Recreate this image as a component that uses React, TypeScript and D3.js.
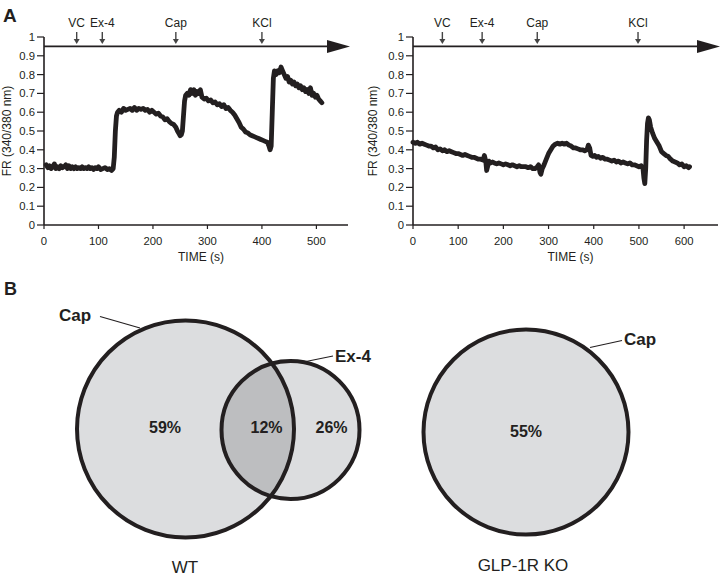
import React from "react";
import * as d3 from "d3";

// ---------- DATA ----------
const yTicks = [0, 0.1, 0.2, 0.3, 0.4, 0.5, 0.6, 0.7, 0.8, 0.9, 1];
const wtXTicks = [0, 100, 200, 300, 400, 500];
const koXTicks = [0, 100, 200, 300, 400, 500, 600];

const wtEvents = ["VC", "Ex-4", "Cap", "KCl"];
const wtEventTimes = [60, 107, 242, 400];
const koEvents = ["VC", "Ex-4", "Cap", "KCl"];
const koEventTimes = [65, 153, 275, 498];

// WT trace [time (s), FR]
const wtTrace: [number, number][] = [
  [4,0.32],[7,0.305],[10,0.315],[13,0.30],[16,0.31],[19,0.325],[22,0.30],[25,0.31],[28,0.30],[31,0.315],
  [34,0.305],[37,0.31],[40,0.32],[43,0.30],[46,0.315],[49,0.30],[52,0.31],[55,0.30],[58,0.31],[61,0.30],
  [64,0.305],[67,0.30],[70,0.31],[73,0.30],[76,0.305],[79,0.30],[82,0.31],[85,0.30],[88,0.305],[91,0.295],
  [94,0.305],[97,0.30],[100,0.31],[104,0.295],[108,0.30],[112,0.305],[116,0.295],[120,0.30],
  [124,0.29],[127,0.30],[129,0.36],[131,0.50],[133,0.58],[135,0.60],[138,0.61],[142,0.60],[146,0.62],[150,0.61],
  [154,0.615],[158,0.62],[162,0.61],[166,0.625],[170,0.61],[174,0.62],[178,0.615],[182,0.62],[186,0.61],[190,0.615],
  [194,0.60],[198,0.61],[202,0.60],[206,0.59],[210,0.595],[214,0.58],[218,0.575],[222,0.56],[226,0.565],[230,0.55],
  [234,0.54],[238,0.535],[242,0.52],[245,0.50],[248,0.485],[250,0.475],[252,0.48],[254,0.50],[256,0.58],[258,0.66],
  [260,0.69],[263,0.70],[266,0.69],[269,0.72],[272,0.70],[275,0.72],[278,0.69],[281,0.71],[284,0.70],[287,0.72],
  [290,0.68],[294,0.67],[298,0.675],[302,0.66],[306,0.665],[310,0.65],[314,0.655],[318,0.64],[322,0.645],[326,0.63],
  [330,0.64],[334,0.62],[338,0.625],[342,0.61],[346,0.60],[350,0.585],[354,0.565],[358,0.545],[362,0.52],[366,0.51],
  [370,0.495],[374,0.49],[378,0.48],[382,0.475],[386,0.47],[390,0.465],[394,0.46],[398,0.455],[402,0.45],[406,0.445],
  [410,0.44],[413,0.42],[415,0.40],[417,0.42],[419,0.60],[421,0.78],[423,0.82],[426,0.80],[429,0.82],[432,0.81],
  [435,0.84],[438,0.82],[441,0.80],[444,0.78],[447,0.79],[450,0.76],[453,0.77],[456,0.75],[459,0.76],[462,0.74],
  [465,0.75],[468,0.73],[471,0.74],[474,0.72],[477,0.73],[480,0.71],[483,0.72],[486,0.70],[489,0.73],[492,0.69],
  [495,0.70],[498,0.68],[501,0.69],[504,0.67],[507,0.66],[510,0.65]
];

// GLP-1R KO trace [time (s), FR]
const koTrace: [number, number][] = [
  [0,0.44],[5,0.435],[10,0.44],[15,0.43],[20,0.435],[25,0.43],[30,0.425],[35,0.42],[40,0.42],[45,0.41],
  [50,0.415],[55,0.40],[60,0.405],[65,0.395],[70,0.40],[75,0.39],[80,0.395],[85,0.39],[90,0.385],[95,0.38],
  [100,0.38],[105,0.375],[110,0.37],[115,0.375],[120,0.37],[125,0.365],[130,0.36],[135,0.36],[140,0.355],[145,0.35],
  [150,0.35],[155,0.345],[158,0.37],[161,0.34],[163,0.29],[166,0.32],[168,0.34],[172,0.33],[176,0.335],[180,0.33],
  [185,0.325],[190,0.33],[195,0.325],[200,0.32],[205,0.325],[210,0.32],[215,0.315],[220,0.32],[225,0.315],[230,0.31],
  [235,0.315],[240,0.31],[245,0.31],[250,0.31],[255,0.305],[260,0.31],[265,0.30],[270,0.30],[275,0.31],[278,0.32],
  [281,0.28],[283,0.27],[286,0.30],[290,0.32],[295,0.35],[300,0.38],[305,0.40],[310,0.42],[315,0.43],[320,0.435],
  [325,0.43],[330,0.435],[335,0.43],[340,0.435],[345,0.425],[350,0.42],[355,0.41],[360,0.41],[365,0.405],[370,0.40],
  [375,0.40],[380,0.395],[385,0.40],[388,0.425],[391,0.41],[394,0.37],[398,0.365],[402,0.37],[406,0.36],[410,0.365],
  [415,0.355],[420,0.36],[425,0.35],[430,0.35],[435,0.345],[440,0.34],[445,0.345],[450,0.335],[455,0.34],[460,0.33],
  [465,0.335],[470,0.33],[475,0.325],[480,0.33],[485,0.32],[490,0.32],[495,0.315],[500,0.31],[505,0.315],[509,0.30],
  [511,0.25],[513,0.22],[515,0.30],[517,0.45],[519,0.54],[521,0.57],[523,0.56],[526,0.52],[530,0.49],[535,0.46],
  [540,0.44],[545,0.42],[550,0.39],[555,0.38],[560,0.37],[565,0.365],[570,0.35],[575,0.34],[580,0.335],[585,0.33],
  [590,0.32],[595,0.325],[600,0.31],[605,0.315],[610,0.305],[612,0.31]
];

// Venn percentages
const wtSetNames = ["Cap", "Ex-4"];
const wtPercents = ["59%", "12%", "26%"];
const koSetNames = ["Cap"];
const koPercents = ["55%"];
const groupNames = ["WT", "GLP-1R KO"];

// ---------- STYLE ----------
const INK = "#231f20";
const FONT = "'Liberation Sans', Arial, Helvetica, sans-serif";
const FILL = "#dcdddf";
const FILL_OVERLAP = "#bdbec0";

type TraceProps = {
  x0: number; x1: number; domainMax: number; ticks: number[];
  data: [number, number][]; events: string[]; eventTimes: number[];
  labelX: number; arrowEnd: number;
};

function Trace({ x0, x1, domainMax, ticks, data, events, eventTimes, labelX, arrowEnd }: TraceProps) {
  const x = d3.scaleLinear().domain([0, domainMax]).range([x0, x1]);
  const y = d3.scaleLinear().domain([0, 1]).range([225, 37]);
  const line = d3.line<[number, number]>().x(d => x(d[0])).y(d => y(d[1])).curve(d3.curveLinear);
  const yTop = y(0.95);
  return (
    <g fontFamily={FONT} fill={INK}>
      {/* y axis */}
      <line x1={x0} x2={x0} y1={y(0)} y2={y(1)} stroke={INK} strokeWidth={1.6} />
      {yTicks.map(t => (
        <g key={t}>
          <line x1={x0 - 7} x2={x0} y1={y(t)} y2={y(t)} stroke={INK} strokeWidth={1.2} />
          <text x={x0 - 9} y={y(t)} dy="0.36em" textAnchor="end" fontSize={11.3}>{String(t)}</text>
        </g>
      ))}
      {/* x axis */}
      <line x1={x0} x2={x1} y1={y(0)} y2={y(0)} stroke={INK} strokeWidth={1.6} />
      {ticks.map(t => (
        <g key={t}>
          <line x1={x(t)} x2={x(t)} y1={y(0)} y2={y(0) + 4} stroke={INK} strokeWidth={1.2} />
          <text x={x(t)} y={y(0) + 20} textAnchor="middle" fontSize={11.3}>{String(t)}</text>
        </g>
      ))}
      <text x={(x0 + x1) / 2 + 5} y={260.5} textAnchor="middle" fontSize={12}>TIME (s)</text>
      <text transform={`translate(${labelX},${y(0.5)}) rotate(-90)`} textAnchor="middle" fontSize={12}>FR (340/380 nm)</text>
      {/* top time-line arrow */}
      <line x1={x0} x2={arrowEnd - 18} y1={yTop} y2={yTop} stroke={INK} strokeWidth={1.8} />
      <path d={`M${arrowEnd - 23},${yTop - 6.5} L${arrowEnd},${yTop} L${arrowEnd - 23},${yTop + 6.5} Z`} fill={INK} />
      {events.map((e, i) => {
        const ex = x(eventTimes[i]);
        return (
          <g key={e}>
            <text x={ex} y={27} textAnchor="middle" fontSize={12}>{e}</text>
            <line x1={ex} x2={ex} y1={32} y2={40} stroke="#444" strokeWidth={1.4} />
            <path d={`M${ex - 3},${39} L${ex},${44} L${ex + 3},${39} Z`} fill="#444" />
          </g>
        );
      })}
      <path d={line(data) || ""} fill="none" stroke={INK} strokeWidth={4.8} strokeLinejoin="round" strokeLinecap="round" />
    </g>
  );
}

export default function App() {
  return (
    <svg width={720} height={581} style={{ position: "absolute", left: 0, top: 0, background: "#fff" }}>
      <rect x={0} y={0} width={720} height={581} fill="#fff" />
      <text x={3} y={22} fontFamily={FONT} fontWeight="bold" fontSize={19} fill={INK}>A</text>
      <text x={4} y={295} fontFamily={FONT} fontWeight="bold" fontSize={18} fill={INK}>B</text>

      <Trace x0={44} x1={348} domainMax={558} ticks={wtXTicks} data={wtTrace}
        events={wtEvents} eventTimes={wtEventTimes} labelX={11} arrowEnd={350} />
      <Trace x0={413} x1={718} domainMax={675} ticks={koXTicks} data={koTrace}
        events={koEvents} eventTimes={koEventTimes} labelX={377} arrowEnd={720} />

      {/* Venn WT */}
      <defs>
        <clipPath id="capClip"><circle cx={185.5} cy={429} r={108.5} /></clipPath>
      </defs>
      <g fontFamily={FONT} fill={INK}>
        <circle cx={185.5} cy={429} r={108.5} fill={FILL} />
        <circle cx={290.5} cy={430} r={69} fill={FILL} />
        <circle cx={290.5} cy={430} r={69} fill={FILL_OVERLAP} clipPath="url(#capClip)" />
        <circle cx={185.5} cy={429} r={108.5} fill="none" stroke={INK} strokeWidth={4} />
        <circle cx={290.5} cy={430} r={69} fill="none" stroke={INK} strokeWidth={4} />
        <line x1={100} y1={316.5} x2={140} y2={328} stroke={INK} strokeWidth={1.2} />
        <text x={59} y={321} fontWeight="bold" fontSize={17}>{wtSetNames[0]}</text>
        <line x1={306} y1={361.5} x2={333} y2={356} stroke={INK} strokeWidth={1.2} />
        <text x={335} y={362} fontWeight="bold" fontSize={17}>{wtSetNames[1]}</text>
        <text x={165} y={433} textAnchor="middle" fontWeight="bold" fontSize={16}>{wtPercents[0]}</text>
        <text x={266.5} y={433} textAnchor="middle" fontWeight="bold" fontSize={16}>{wtPercents[1]}</text>
        <text x={331.5} y={433} textAnchor="middle" fontWeight="bold" fontSize={16}>{wtPercents[2]}</text>
        <text x={185} y={573} textAnchor="middle" fontSize={17}>{groupNames[0]}</text>

        {/* Venn KO */}
        <circle cx={526} cy={432} r={102.5} fill={FILL} stroke={INK} strokeWidth={4} />
        <line x1={590} y1={347.5} x2={622} y2={340.5} stroke={INK} strokeWidth={1.2} />
        <text x={624} y={345} fontWeight="bold" fontSize={17}>{koSetNames[0]}</text>
        <text x={526} y={437} textAnchor="middle" fontWeight="bold" fontSize={16}>{koPercents[0]}</text>
        <text x={523} y={571} textAnchor="middle" fontSize={17}>{groupNames[1]}</text>
      </g>
    </svg>
  );
}
